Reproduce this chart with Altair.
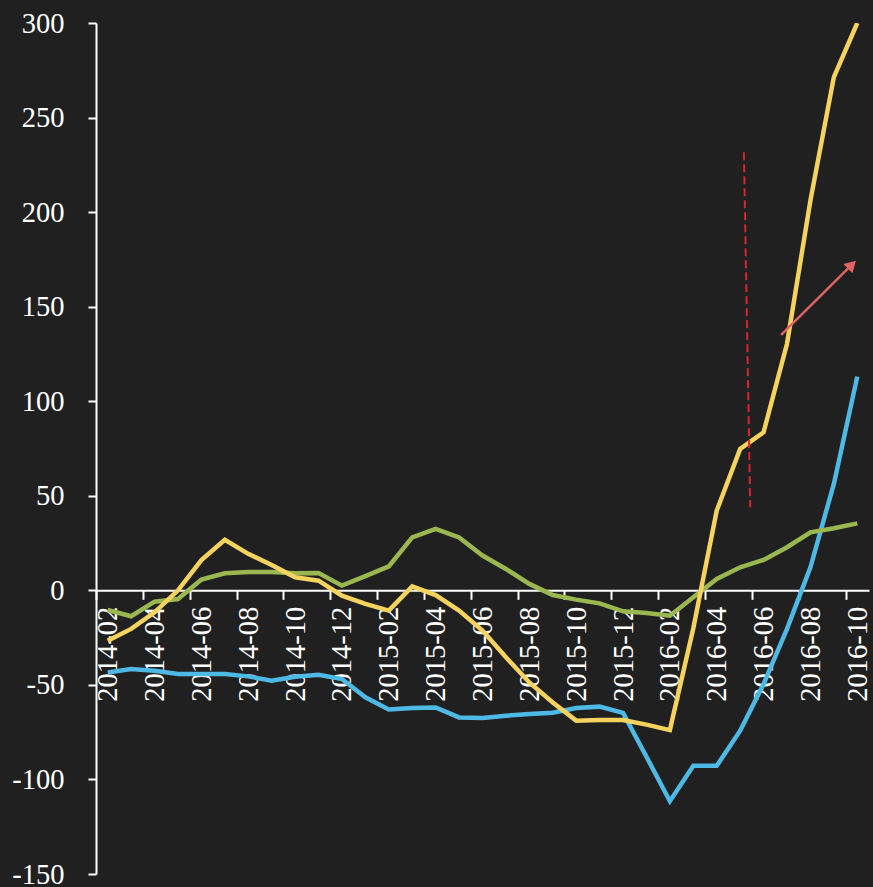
import altair as alt
import pandas as pd

# Monthly categories, 2014-02 .. 2016-10
months = [
    "2014-02", "2014-03", "2014-04", "2014-05", "2014-06", "2014-07", "2014-08",
    "2014-09", "2014-10", "2014-11", "2014-12", "2015-01", "2015-02", "2015-03",
    "2015-04", "2015-05", "2015-06", "2015-07", "2015-08", "2015-09", "2015-10",
    "2015-11", "2015-12", "2016-01", "2016-02", "2016-03", "2016-04", "2016-05",
    "2016-06", "2016-07", "2016-08", "2016-09", "2016-10",
]

yellow_vals = [-26.6, -20.4, -11.6, 0, 16, 26.7, 19.3, 13.4, 6.9, 5.1, -2.8,
               -7.2, -10.7, 2.1, -2.5, -10.7, -21.3, -35.4, -48.7, -59.3,
               -68.9, -68.6, -68.6, -71, -73.9, -20, 42.2, 74.8, 83.6, 130.4,
               206.2, 271.4, 300]
green_vals = [-10.4, -13.7, -6, -4.6, 5.7, 9, 9.7, 9.7, 9, 9.2, 2.5, 7.5,
              12.7, 28, 32.5, 28, 18.4, 11.3, 3.4, -2.5, -4.9, -6.9, -11.1,
              -12, -13.4, -3.7, 6, 12.2, 16.1, 22.8, 30.7, 32.8, 35.4]
blue_vals = [-43.4, -41.6, -42.5, -44.2, -44.2, -44.2, -45.5, -47.8, -45.7,
             -44.6, -46.9, -56.6, -63, -62.2, -61.9, -67.2, -67.5, -66.3,
             -65.4, -64.7, -62.2, -61.5, -64.8, -88, -111.5, -92.8, -92.8,
             -74.2, -49.5, -20.4, 12.2, 56.3, 113]

# Annotations (data units): dashed marker and arrow
dash_x = [27.16, 27.43]
dash_y = [231.7, 43.9]
arrow_x = [28.75, 31.77]
arrow_y = [135.1, 172.2]

y_ticks = [-150, -100, -50, 0, 50, 100, 150, 200, 250, 300]

W, H = 773, 851
n = len(months)
band = W / n
zero_offset = -H * 150 / 450  # lift the x axis to y = 0

FONT = "Liberation Serif"
BG = "#202020"

month_js = "[" + ",".join(f"'{m}'" for m in months) + "]"
x_scale = alt.Scale(domain=[-0.5, n - 0.5], nice=False, zero=False)
y_scale = alt.Scale(domain=[-150, 300], nice=False, zero=False)

x_axis = alt.Axis(
    values=[i - 0.5 for i in range(0, n, 2)],
    labelExpr=f"{month_js}[round(datum.value + 0.5)]",
    labelOffset=band / 2,
    labelAngle=-90,
    labelAlign="right",
    labelBaseline="middle",
    labelPadding=7,
    labelFlush=False,
    labelOverlap=False,
    labelBound=False,
    tickSize=9,
    tickWidth=2,
    tickColor="white",
    domainColor="white",
    domainWidth=2,
    labelColor="white",
    labelFont=FONT,
    labelFontSize=28.5,
    grid=False,
    title=None,
    offset=zero_offset,
)
y_axis = alt.Axis(
    values=y_ticks,
    # plain hyphen for negatives
    labelExpr="datum.value < 0 ? '-' + abs(datum.value) : '' + datum.value",
    tickSize=8,
    tickWidth=2,
    tickColor="white",
    domainColor="white",
    domainWidth=2,
    labelColor="white",
    labelFont=FONT,
    labelFontSize=28.5,
    labelPadding=24,
    labelBound=False,
    grid=False,
    title=None,
)


def X(field):
    return alt.X(field, scale=x_scale, axis=x_axis)


def Y(field):
    return alt.Y(field, scale=y_scale, axis=y_axis)


idx = list(range(n))


def series(vals, color):
    df = pd.DataFrame({"idx": idx, "month": months, "value": vals})
    return alt.Chart(df).mark_line(color=color, strokeWidth=4.5, clip=True).encode(
        x=X("idx:Q"), y=Y("value:Q")
    )


blue = series(blue_vals, "#4FB9E6")
green = series(green_vals, "#9BB750")
yellow = series(yellow_vals, "#F5D35E")

dash_df = pd.DataFrame({"x": [dash_x[0]], "x2": [dash_x[1]],
                        "y": [dash_y[0]], "y2": [dash_y[1]]})
dash = alt.Chart(dash_df).mark_rule(
    color="#D42530", strokeWidth=2, strokeDash=[8, 4]
).encode(x=X("x:Q"), x2="x2:Q", y=Y("y:Q"), y2="y2:Q")

arrow_df = pd.DataFrame({"x": [arrow_x[0]], "x2": [arrow_x[1]],
                         "y": [arrow_y[0]], "y2": [arrow_y[1]]})
arrow_shaft = alt.Chart(arrow_df).mark_rule(
    color="#E06262", strokeWidth=2.5
).encode(x=X("x:Q"), x2="x2:Q", y=Y("y:Q"), y2="y2:Q")

head_df = pd.DataFrame({"x": [arrow_x[1]], "y": [arrow_y[1]]})
arrow_head = alt.Chart(head_df).mark_point(
    shape="triangle-up", filled=True, color="#E06262", size=170,
    angle=45, opacity=1,
).encode(x=X("x:Q"), y=Y("y:Q"))

chart = alt.layer(blue, green, yellow, dash, arrow_shaft, arrow_head).properties(
    width=W,
    height=H,
    padding={"left": 96, "top": 23, "right": 4, "bottom": 13},
    autosize=alt.AutoSizeParams(type="none"),
    background=BG,
).configure_view(stroke=None)

chart.save("out.html", embed_options={"renderer": "svg", "actions": False})
